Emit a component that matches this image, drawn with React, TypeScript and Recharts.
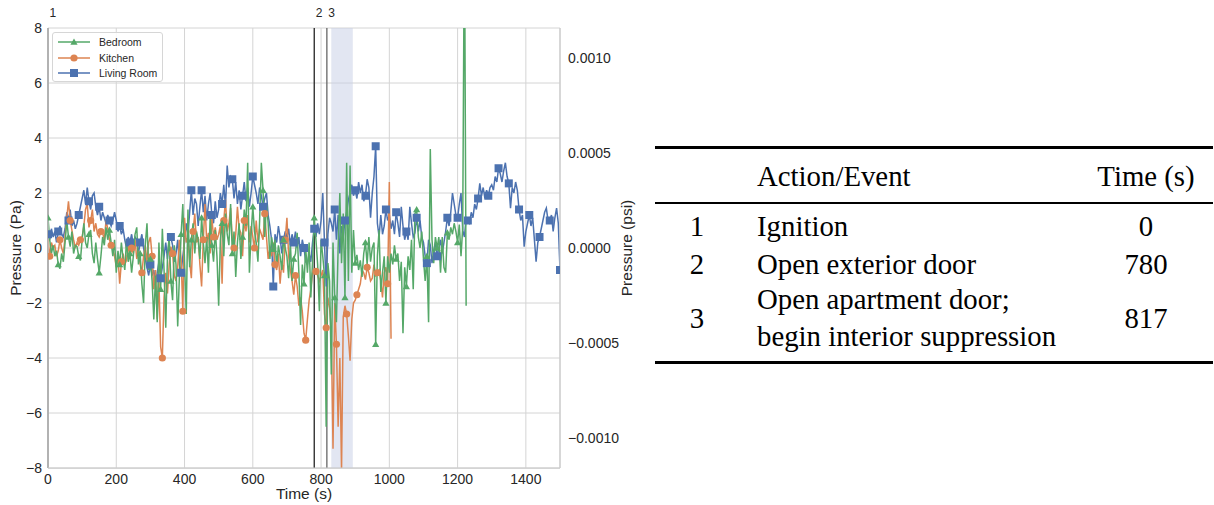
import React from 'react';
import { ComposedChart, Line, XAxis, YAxis, CartesianGrid, ReferenceLine, ReferenceArea, Label } from 'recharts';

const SAMPLE_STEP = 5; // seconds between samples

const livingRoom: number[] = [
  0.5,0.3,0.7,0.4,0.6,0.2,0.6,0.8,0.5,0.4,0.7,1.3,1.0,1.4,0.8,1.0,0.7,0.9,1.2,1.5,
  1.8,2.1,1.6,2.2,1.7,1.4,1.9,2.0,1.5,1.2,1.5,1.0,1.3,1.1,0.9,1.2,1.0,0.8,1.0,1.3,
  1.0,0.6,0.8,0.5,0.7,0.3,0.0,0.4,0.2,0.5,0.1,0.4,0.3,-0.2,0.2,0.5,0.0,-0.4,-0.7,-1.0,
  -0.6,-1.0,-0.8,-1.3,-0.9,-0.5,-1.1,-0.7,-0.3,0.2,-0.4,0.3,0.4,0.1,-0.5,-0.2,0.3,-0.6,-0.9,-0.3,
  0.2,0.9,0.5,1.3,2.1,1.2,1.8,1.6,0.8,1.5,2.1,1.3,1.9,1.0,1.6,2.0,1.2,0.9,1.7,1.1,
  1.4,2.0,1.6,2.3,1.5,3.0,2.2,2.6,2.5,1.8,2.4,1.6,2.1,1.4,1.9,2.4,1.7,2.2,1.5,2.0,
  2.6,2.3,2.0,1.6,2.2,1.9,1.5,1.8,2.0,1.2,0.8,0.3,-1.4,0.5,0.2,0.8,0.4,-0.2,0.3,0.6,
  0.4,0.7,0.1,0.5,0.2,0.6,0.0,0.4,-0.3,0.3,0.0,-0.5,-0.6,-0.2,-0.5,0.2,0.7,0.4,0.9,0.5,
  1.0,2.0,0.2,-1.4,0.5,1.1,0.9,0.6,1.4,0.3,1.2,-0.2,0.8,0.4,1.0,1.3,1.75,2.0,2.3,1.9,
  2.1,1.8,2.4,2.0,2.3,1.7,1.9,2.5,2.2,1.1,2.0,2.6,3.7,0.9,0.4,1.2,0.5,0.8,1.4,1.0,
  1.2,0.7,1.0,0.5,1.3,0.9,0.4,1.5,0.8,0.3,0.6,0.3,1.5,0.9,0.4,0.55,1.1,0.6,1.0,0.4,
  0.2,-0.3,-0.55,0.3,0.1,-0.55,-0.1,0.2,-0.3,0.0,0.3,-0.2,0.2,0.6,1.1,0.8,1.3,2.0,1.6,1.2,
  1.1,1.6,2.0,0.65,0.4,1.1,1.0,0.9,1.3,1.1,1.6,1.4,1.8,2.35,1.9,2.2,1.8,2.1,1.9,2.2,
  2.3,2.1,2.6,2.4,2.9,2.7,2.4,2.8,3.1,2.6,2.35,1.45,2.2,2.0,2.4,2.1,1.4,1.0,1.2,0.05,
  0.6,0.9,1.2,0.8,1.1,0.3,-0.5,0.2,0.4,0.7,1.0,1.3,1.45,1.0,1.0,1.2,0.6,1.1,1.45,0.9,-0.8,
];

const bedroom: number[] = [
  1.1,0.3,-0.2,0.1,-0.3,-0.1,-0.6,-0.75,-0.2,-0.5,0.2,1.0,0.4,0.05,0.6,-0.2,0.1,0.05,-0.3,-0.45,
  0.3,0.9,0.2,0.0,0.5,0.65,-0.2,-0.55,0.2,-0.4,-0.9,-0.3,0.4,0.1,0.75,0.3,0.65,0.2,-0.3,0.3,
  -0.9,-0.1,-0.6,0.2,-0.4,-0.8,0.3,-0.5,-0.2,-0.9,-0.3,0.5,0.75,-0.6,-0.2,-1.3,-2.0,0.1,0.9,-0.8,
  -0.4,-1.2,-2.6,-1.0,-2.7,0.2,-1.5,0.7,-0.8,-2.9,-0.3,0.4,-1.2,-1.9,0.1,-0.6,-2.85,-1.0,0.5,1.6,
  -0.5,-2.4,1.4,-0.7,0.3,0.9,-0.2,0.6,0.3,-0.4,1.1,0.2,-0.55,0.4,-0.9,1.1,0.1,-0.5,0.65,-0.3,
  -2.1,0.3,0.9,-0.3,1.25,0.5,0.1,1.6,-0.2,0.6,-1.05,0.2,0.9,-0.4,0.4,1.4,0.8,3.1,-0.9,0.5,
  1.5,0.6,0.2,-0.5,1.0,3.1,2.1,0.4,1.6,0.9,-0.4,0.4,-0.05,0.3,-0.7,0.1,-0.3,-0.8,0.3,0.0,
  -0.3,-1.1,0.2,-1.2,-0.4,-0.2,0.55,-0.9,-2.8,-0.6,-1.3,0.0,-0.9,0.2,-1.8,-0.5,1.1,0.3,-0.6,-2.3,
  0.3,-0.3,-1.0,-6.5,-0.55,-1.2,-4.6,0.2,-1.8,-2.7,0.0,2.0,-0.55,1.25,-1.8,3.1,-1.2,3.0,-0.9,0.65,
  -0.55,-0.25,-0.8,-0.45,-1.05,-0.2,0.2,-0.6,0.4,-0.5,0.0,0.2,-3.5,-0.3,0.65,-1.6,-0.9,-0.3,-2.0,-0.3,
  -0.9,-0.2,-0.6,0.1,-0.4,-0.2,-1.2,-0.5,-3.1,-0.7,-1.4,-0.3,-0.8,0.3,-1.5,1.25,1.4,0.4,0.0,0.6,
  -0.4,-1.2,-0.3,-2.7,3.6,0.3,-0.55,0.4,0.0,0.4,-0.9,0.4,-0.7,-0.9,0.55,0.3,0.75,0.5,0.9,0.6,
  0.2,0.85,-0.3,0.75,12,-2.1,
];

const kitchen: number[] = [
  0.3,-0.3,0.2,0.0,0.1,-0.3,-0.1,0.3,0.0,-0.2,0.4,1.1,1.7,1.0,0.65,0.3,0.0,0.2,0.1,0.3,
  0.4,0.8,1.4,1.6,0.75,1.0,1.4,0.6,0.9,0.5,0.4,0.6,0.55,0.3,1.0,0.7,0.3,0.1,0.0,-0.3,
  -0.7,-0.3,-1.3,-0.5,-0.2,-0.6,-0.45,0.1,-0.3,0.0,-0.2,0.3,-0.4,-0.1,-0.6,-0.9,-0.3,0.1,-0.5,0.2,
  0.4,-0.3,-1.5,-0.8,-2.6,-1.2,-3.6,-4.0,-1.8,-0.9,-1.65,-0.6,0.05,-0.2,-1.0,-1.2,-0.7,0.3,-0.4,-2.3,
  1.1,0.2,0.4,-0.5,-1.1,0.6,1.25,0.2,0.4,-0.6,-1.4,0.3,1.6,0.2,0.55,-0.2,1.1,0.4,0.75,0.3,
  0.5,0.8,-1.3,1.0,1.75,0.6,0.9,1.45,0.3,0.0,0.5,1.5,0.7,0.55,-0.3,1.0,0.6,1.2,0.2,0.8,
  0.4,0.0,1.0,0.2,0.7,0.5,0.3,1.25,0.4,-0.4,0.0,-0.3,0.2,-0.6,-0.8,-0.2,-1.3,-0.5,-0.9,0.3,
  1.1,-0.3,-0.8,-1.2,-1.7,-1.0,-1.4,-2.1,-1.8,-2.3,-3.1,-3.35,-2.6,-1.9,-1.5,-0.9,-0.8,-0.85,-1.0,-1.2,
  -1.0,-0.8,-2.4,-2.9,-1.8,-2.2,-3.0,-7.3,-2.0,-3.5,-6.5,-4.0,-8.1,-2.5,-2.1,-2.4,-3.2,-4.1,-2.6,-2.0,
  -1.9,-1.7,-1.5,-1.3,-0.8,-0.9,-1.15,-0.7,-0.9,-1.2,-1.1,-0.6,-1.0,-0.9,-0.8,-1.2,-1.8,-0.9,-0.7,-1.3,
  2.4,-3.3,
];

const seriesNames = ['Bedroom', 'Kitchen', 'Living Room'];
const seriesColors = ['#55A868', '#DD8452', '#4C72B0'];
const markerOffsets = [0, 1, 0];

const xTicks = [0, 200, 400, 600, 800, 1000, 1200, 1400];
const paTicks = [-8, -6, -4, -2, 0, 2, 4, 6, 8];
const psiTicks = [-0.001, -0.0005, 0, 0.0005, 0.001];
const PA_PER_PSI = 6894.757;

const eventIds = ['1', '2', '3'];
const eventTimes = [0, 780, 817];
const eventColors = ['#707070', '#222222', '#666666'];
const shadeStart = 830;
const shadeEnd = 893;

const tableNums = ['1', '2', '3'];
const tableActions = [['Ignition'], ['Open exterior door'], ['Open apartment door;', 'begin interior suppression']];
const tableTimes = ['0', '780', '817'];

const toPoints = (vals: number[]) => vals.map((v, i) => ({ t: i * SAMPLE_STEP, v }));
const bedroomData = toPoints(bedroom);
const kitchenData = toPoints(kitchen);
const livingData = toPoints(livingRoom);

const minus = (s: string) => s.replace('-', '\u2212');
const SANS = '"Liberation Sans", Arial, sans-serif';
const SERIF = '"Liberation Serif", "Times New Roman", serif';
const TXT = '#262626';

function Marker({ kind, cx, cy, color }: { kind: number; cx: number; cy: number; color: string }) {
  if (kind === 0) {
    const s = 3.6;
    return <polygon points={`${cx},${cy - s} ${cx - s},${cy + s * 0.75} ${cx + s},${cy + s * 0.75}`} fill={color} />;
  }
  if (kind === 1) return <circle cx={cx} cy={cy} r={3.6} fill={color} />;
  return <rect x={cx - 4} y={cy - 4} width={8} height={8} fill={color} />;
}

const makeDot = (kind: number) => (props: any) => {
  const { cx, cy, index } = props;
  if (index % 6 !== markerOffsets[kind] || cx == null || cy == null || cy < 28 || cy > 468) {
    return <g key={`d-${kind}-${index}`} />;
  }
  return <g key={`d-${kind}-${index}`}><Marker kind={kind} cx={cx} cy={cy} color={seriesColors[kind]} /></g>;
};

const eventLabel = (text: string) => (props: any) => {
  const vb = props.viewBox || {};
  return (
    <text x={(vb.x ?? 0) + 1.5} y={(vb.y ?? 28) - 11} fontSize={12} fill={TXT} fontFamily={SANS}>
      {text}
    </text>
  );
};

export default function App() {
  const lineData = [bedroomData, kitchenData, livingData];
  const drawOrder = [2, 1, 0];
  return (
    <div style={{ position: 'absolute', left: 0, top: 0, width: 1214, height: 505, background: '#fff' }}>
      <div style={{ position: 'absolute', left: 0, top: 0 }}>
        <ComposedChart width={640} height={505} margin={{ top: 28, right: 0, bottom: 0, left: 0 }}>
          <CartesianGrid xAxisId="t" yAxisId="pa" stroke="#d4d4d4" strokeWidth={1} />
          <XAxis
            xAxisId="t"
            dataKey="t"
            type="number"
            domain={[0, 1500]}
            ticks={xTicks}
            allowDataOverflow
            height={37}
            tickLine={false}
            tickSize={4}
            axisLine={{ stroke: '#cccccc', strokeWidth: 1.25 }}
            tick={{ fontSize: 14, fill: TXT, fontFamily: SANS }}
          >
            <Label
              content={() => (
                <text x={304} y={499} textAnchor="middle" fontSize={15.5} fill={TXT} fontFamily={SANS}>
                  Time (s)
                </text>
              )}
            />
          </XAxis>
          <YAxis
            yAxisId="pa"
            type="number"
            domain={[-8, 8]}
            ticks={paTicks}
            allowDataOverflow
            width={48}
            tickLine={false}
            tickSize={4}
            axisLine={{ stroke: '#cccccc', strokeWidth: 1.25 }}
            tick={{ fontSize: 14, fill: TXT, fontFamily: SANS }}
            tickFormatter={(v: number) => minus(String(v))}
          >
            <Label
              content={() => (
                <text x={21} y={248} transform="rotate(-90 21 248)" textAnchor="middle" fontSize={15.5} fill={TXT} fontFamily={SANS}>
                  Pressure (Pa)
                </text>
              )}
            />
          </YAxis>
          <YAxis
            yAxisId="psi"
            orientation="right"
            type="number"
            domain={[-8 / PA_PER_PSI, 8 / PA_PER_PSI]}
            ticks={psiTicks}
            allowDataOverflow
            width={80}
            tickLine={false}
            tickSize={6}
            axisLine={{ stroke: '#cccccc', strokeWidth: 1.25 }}
            tick={{ fontSize: 14, fill: TXT, fontFamily: SANS }}
            tickFormatter={(v: number) => minus(v.toFixed(4))}
          >
            <Label
              content={() => (
                <text x={632} y={248} transform="rotate(-90 632 248)" textAnchor="middle" fontSize={15.5} fill={TXT} fontFamily={SANS}>
                  Pressure (psi)
                </text>
              )}
            />
          </YAxis>
          <ReferenceArea xAxisId="t" yAxisId="pa" x1={shadeStart} x2={shadeEnd} y1={-8} y2={8} fill="#c5cde6" fillOpacity={0.5} stroke="none" />
          {eventTimes.map((et, i) => (
            <ReferenceLine
              key={`ev-${i}`}
              xAxisId="t"
              yAxisId="pa"
              x={et}
              stroke={eventColors[i]}
              strokeWidth={i === 0 ? 1.6 : 1.3}
              label={eventLabel(eventIds[i])}
            />
          ))}
          {drawOrder.map((k) => (
            <Line
              key={seriesNames[k]}
              xAxisId="t"
              yAxisId="pa"
              data={lineData[k]}
              dataKey="v"
              name={seriesNames[k]}
              type="linear"
              stroke={seriesColors[k]}
              strokeWidth={1.5}
              dot={makeDot(k)}
              activeDot={false}
              isAnimationActive={false}
            />
          ))}
        </ComposedChart>
      </div>

      {/* legend */}
      <div
        style={{
          position: 'absolute', left: 52, top: 32, width: 111, height: 50, border: '1px solid #d6d6d6',
          borderRadius: 3, background: 'rgba(255,255,255,0.85)', boxSizing: 'border-box',
        }}
      >
        {seriesNames.map((name, k) => (
          <div key={name} style={{ position: 'absolute', left: 5, top: 2 + k * 15.5, height: 14, display: 'flex', alignItems: 'center' }}>
            <svg width={33} height={12}>
              <line x1={0} y1={6} x2={32} y2={6} stroke={seriesColors[k]} strokeWidth={1.5} />
              <Marker kind={k} cx={16} cy={6} color={seriesColors[k]} />
            </svg>
            <span style={{ marginLeft: 8, fontSize: 10.5, fontFamily: SANS, color: TXT, lineHeight: '14px', whiteSpace: 'nowrap' }}>{name}</span>
          </div>
        ))}
      </div>

      {/* table */}
      <div style={{ position: 'absolute', left: 655, top: 146, width: 558, height: 3, background: '#000' }} />
      <div style={{ position: 'absolute', left: 655, top: 202, width: 558, height: 1.5, background: '#000' }} />
      <div style={{ position: 'absolute', left: 655, top: 361, width: 558, height: 3, background: '#000' }} />
      {(() => {
        const base: React.CSSProperties = { position: 'absolute', fontFamily: SERIF, fontSize: 28.8, lineHeight: '28.8px', color: '#000', whiteSpace: 'nowrap' };
        const items: React.ReactNode[] = [];
        items.push(<div key="h1" style={{ ...base, left: 757, top: 162 }}>Action/Event</div>);
        items.push(<div key="h2" style={{ ...base, left: 1096, width: 100, textAlign: 'center', top: 162 }}>Time (s)</div>);
        const rowTops = [212, 250, 304];
        tableNums.forEach((n, i) => {
          items.push(<div key={`n${i}`} style={{ ...base, left: 677, width: 40, textAlign: 'center', top: rowTops[i] }}>{n}</div>);
          items.push(<div key={`t${i}`} style={{ ...base, left: 1096, width: 100, textAlign: 'center', top: rowTops[i] }}>{tableTimes[i]}</div>);
          const lines = tableActions[i];
          if (lines.length === 1) {
            items.push(<div key={`a${i}`} style={{ ...base, left: 757, top: rowTops[i] }}>{lines[0]}</div>);
          } else {
            items.push(<div key={`a${i}a`} style={{ ...base, left: 757, top: 285 }}>{lines[0]}</div>);
            items.push(<div key={`a${i}b`} style={{ ...base, left: 757, top: 322 }}>{lines[1]}</div>);
          }
        });
        return items;
      })()}
    </div>
  );
}
